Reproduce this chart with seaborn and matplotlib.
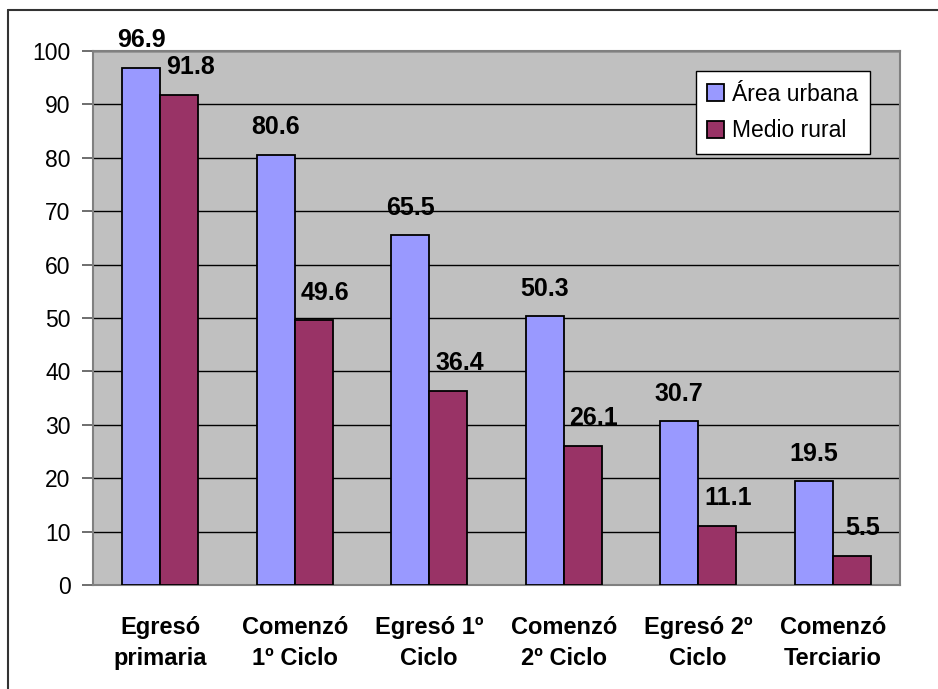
import numpy as np
import pandas as pd
import matplotlib
matplotlib.use("Agg")
import matplotlib.pyplot as plt
from matplotlib.lines import Line2D
import seaborn as sns

etapas = ["Egresó\nprimaria", "Comenzó\n1º Ciclo", "Egresó 1º\nCiclo",
          "Comenzó\n2º Ciclo", "Egresó 2º\nCiclo", "Comenzó\nTerciario"]
zonas = ["Área urbana", "Medio rural"]
urbana = [96.9, 80.6, 65.5, 50.3, 30.7, 19.5]
rural = [91.8, 49.6, 36.4, 26.1, 11.1, 5.5]
colores = ["#9999FF", "#993366"]

sns.set_style("white")
plt.rcParams['font.family'] = ['Liberation Sans', 'DejaVu Sans']
plt.rcParams['text.color'] = 'black'
plt.rcParams['xtick.color'] = 'black'
plt.rcParams['ytick.color'] = 'black'

df = pd.DataFrame({
    "etapa": etapas * 2,
    "zona": [zonas[0]] * len(etapas) + [zonas[1]] * len(etapas),
    "pct": urbana + rural,
})

fig = plt.figure(figsize=(9.38, 6.89), dpi=100)
ax = fig.add_axes([0.0991, 0.151, 0.8603, 0.775])
ax.set_facecolor("#C0C0C0")

sns.barplot(data=df, x="etapa", y="pct", hue="zona", order=etapas,
            hue_order=zonas, palette=colores, saturation=1, width=0.565, gap=0,
            edgecolor="black", linewidth=1.3, ax=ax, zorder=3)

# etiquetas de valores
for cont, vals, dx in zip(ax.containers, [urbana, rural], [0, 8]):
    for bar, v in zip(cont, vals):
        ax.annotate(f"{v:.1f}", (bar.get_x() + bar.get_width() / 2, bar.get_height()),
                    xytext=(dx, 11), textcoords="offset points",
                    ha="center", va="bottom", fontsize=18, fontweight="bold",
                    color="black", zorder=5)

ax.set_ylim(0, 100)
ax.set_xlim(-0.5, len(etapas) - 0.5)
ax.set_yticks(np.arange(0, 101, 10))
ax.yaxis.grid(True, color="black", linewidth=1)
ax.set_axisbelow(True)
ax.set_xlabel("")
ax.set_ylabel("")

ax.set_xticks(range(len(etapas)))
ax.set_xticklabels(etapas, fontsize=17, fontweight="bold", linespacing=1.45)
ax.set_xticks(np.arange(-0.5, len(etapas), 1), minor=True)
ax.tick_params(axis="x", which="major", length=0, pad=22)
ax.tick_params(axis="x", which="minor", length=8, width=1.2, color="#555555", direction="out")
ax.tick_params(axis="y", length=8, width=1.2, color="#555555", labelcolor="black",
               labelsize=16.5, pad=8, direction="out", left=True)

for s in ax.spines.values():
    s.set_color("#808080")
    s.set_linewidth(1.5)

leg = ax.legend(loc="upper right", bbox_to_anchor=(0.963, 0.962), fontsize=16.5,
                frameon=True, fancybox=False, edgecolor="black", framealpha=1,
                facecolor="white", handlelength=0.75, handleheight=0.75,
                handletextpad=0.35, labelspacing=0.6, borderpad=0.5,
                borderaxespad=0)
leg.get_frame().set_linewidth(1)

# borde exterior del gráfico
fig.add_artist(Line2D([0.0085, 0.0085], [0, 0.9855], color="#333333", linewidth=1.5))
fig.add_artist(Line2D([0.0085, 1], [0.9855, 0.9855], color="#333333", linewidth=1.5))

fig.savefig("out.png", dpi=100, facecolor="white")
